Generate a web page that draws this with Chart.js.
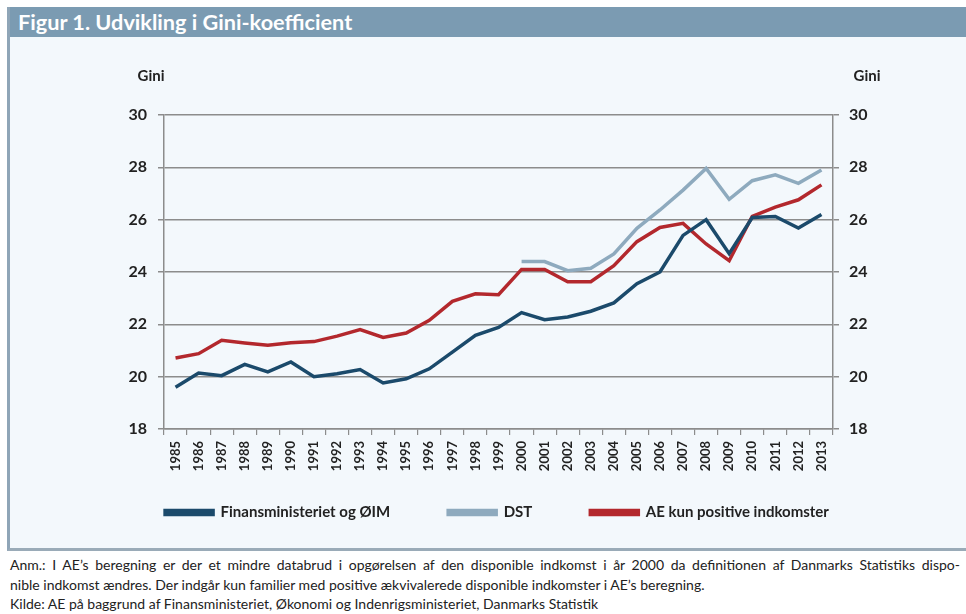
<!DOCTYPE html>
<html>
<head>
<meta charset="utf-8">
<script src="https://cdn.jsdelivr.net/npm/chart.js@4"></script>
<style>
  body { margin: 0; background: #fff; width: 966px; height: 614px; position: relative; overflow: hidden; font-family: Lato, "Open Sans", sans-serif; }
  #panel { position: absolute; left: 7px; top: 7px; width: 956px; height: 541px; background: #f3f8fc; border-left: 3px solid #8fa5b7; border-bottom: 3px solid #9aabb8; }
  #title { position: absolute; left: 0; top: 0; right: 0; height: 30px; background: #7b9bb2; color: #fff; font-weight: bold; font-size: 21.7px; line-height: 31px; padding-left: 8px; }
  #wrap { position: absolute; left: 0; top: 0; width: 966px; height: 600px; }
  #note { position: absolute; left: 10px; top: 555px; width: 950px; font-size: 14px; line-height: 19.5px; color: #222; }
  #note div { white-space: nowrap; }
  #note .j { text-align: justify; text-align-last: justify; white-space: normal; }
</style>
</head>
<body>
<div id="panel"><div id="title">Figur 1. Udvikling i Gini-koefficient</div></div>
<div id="note">
  <div class="j">Anm.: I AE’s beregning er der et mindre databrud i opgørelsen af den disponible indkomst i år 2000 da definitionen af Danmarks Statistiks dispo-</div>
  <div>nible indkomst ændres. Der indgår kun familier med positive ækvivalerede disponible indkomster i AE’s beregning.</div>
  <div>Kilde: AE på baggrund af Finansministeriet, Økonomi og Indenrigsministeriet, Danmarks Statistik</div>
</div>
<div id="wrap"><canvas id="chart"></canvas></div>
<script>
// data
const years = ['1985', '1986', '1987', '1988', '1989', '1990', '1991', '1992', '1993', '1994',
    '1995', '1996', '1997', '1998', '1999', '2000', '2001', '2002', '2003', '2004',
    '2005', '2006', '2007', '2008', '2009', '2010', '2011', '2012', '2013'];
const finansministeriet = [19.6, 20.14, 20.04, 20.47, 20.18, 20.56, 20.0, 20.11, 20.27, 19.76,
    19.92, 20.3, 20.94, 21.58, 21.88, 22.45, 22.18, 22.28, 22.5, 22.82,
    23.55, 24.0, 25.4, 26.0, 24.7, 26.08, 26.12, 25.68, 26.2];
const dst = [null, null, null, null, null, null, null, null, null, null,
    null, null, null, null, null, 24.4, 24.4, 24.05, 24.14, 24.69,
    25.67, 26.37, 27.13, 27.96, 26.78, 27.49, 27.71, 27.39, 27.9];
const aeKunPositive = [20.71, 20.88, 21.39, 21.29, 21.2, 21.3, 21.34, 21.55, 21.8, 21.5,
    21.67, 22.15, 22.88, 23.17, 23.13, 24.1, 24.1, 23.63, 23.63, 24.24,
    25.16, 25.7, 25.86, 25.07, 24.43, 26.13, 26.48, 26.76, 27.33];
const seriesNames = ['Finansministeriet og ØIM', 'DST', 'AE kun positive indkomster'];
const yMin = 18, yMax = 30, yStep = 2;
const axisTitle = 'Gini';

const colors = ['#1b4a6b', '#8eaabe', '#b3282d'];
const gridColor = '#8c8c8c';
const txt = '#222';
const fontFam = 'Lato, "Open Sans", sans-serif';

// "Gini" above both y axes
const giniTitles = {
    id: 'giniTitles',
    afterDraw(chart) {
        const c = chart.ctx;
        c.save();
        c.font = 'bold 15px ' + fontFam;
        c.fillStyle = txt;
        c.textAlign = 'center';
        c.textBaseline = 'middle';
        c.fillText(axisTitle, chart.scales.y.right - 13, 76);
        c.fillText(axisTitle, chart.scales.y2.left + 34, 76);
        c.restore();
    }
};

// legend needs wide gaps between items but sits close under the year labels
const liftLegend = {
    id: 'liftLegend',
    afterLayout(chart) {
        chart.legend.top -= 30;
        chart.legend.bottom -= 30;
    }
};

const ctx = document.getElementById('chart').getContext('2d');
new Chart(ctx, {
    type: 'line',
    data: {
        labels: years,
        datasets: [
            { label: seriesNames[0], data: finansministeriet, borderColor: colors[0], backgroundColor: colors[0] },
            { label: seriesNames[1], data: dst, borderColor: colors[1], backgroundColor: colors[1] },
            { label: seriesNames[2], data: aeKunPositive, borderColor: colors[2], backgroundColor: colors[2] }
        ]
    },
    options: {
        responsive: true,
        maintainAspectRatio: false,
        animation: false,
        layout: { padding: { left: 28, right: 0, top: 115, bottom: 40 } },
        elements: {
            line: { borderWidth: 3.5, tension: 0 },
            point: { radius: 0, hoverRadius: 0 }
        },
        plugins: {
            tooltip: { enabled: false },
            legend: {
                position: 'bottom',
                labels: {
                    boxWidth: 48,
                    boxHeight: 4,
                    padding: 58,
                    color: txt,
                    font: { family: fontFam, size: 15, weight: 'bold' }
                }
            }
        },
        scales: {
            x: {
                offset: true,
                grid: { display: true, drawOnChartArea: false, drawTicks: true, tickLength: 6, color: gridColor, lineWidth: 1.2, offset: true },
                border: { display: true, color: gridColor, width: 1.5 },
                ticks: { minRotation: 90, maxRotation: 90, autoSkip: false, padding: 6, color: txt, font: { family: fontFam, size: 13, weight: 'bold' } },
                afterFit(scale) { scale.height = 48; }
            },
            y: {
                position: 'left',
                min: yMin, max: yMax,
                grid: { color: gridColor, lineWidth: 1.5, tickLength: 6 },
                border: { display: true, color: gridColor, width: 1.5 },
                ticks: { stepSize: yStep, padding: 11, color: txt, font: { family: fontFam, size: 16, weight: 'bold' } },
                afterFit(scale) { scale.width = 164 - 28; }
            },
            y2: {
                position: 'right',
                min: yMin, max: yMax,
                grid: { drawOnChartArea: false, color: gridColor, lineWidth: 1.5, tickLength: 6 },
                border: { display: true, color: gridColor, width: 1.5 },
                ticks: { stepSize: yStep, padding: 10, color: txt, font: { family: fontFam, size: 16, weight: 'bold' } },
                afterFit(scale) { scale.width = 966 - 833; }
            }
        }
    },
    plugins: [giniTitles, liftLegend]
});
</script>
</body>
</html>
